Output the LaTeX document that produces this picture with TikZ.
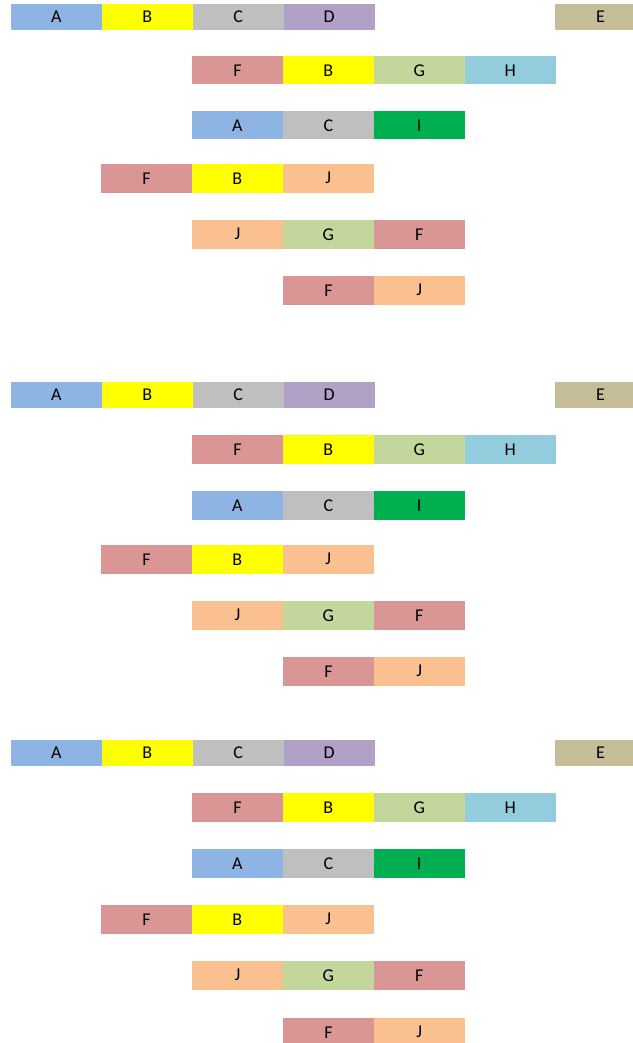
\documentclass[tikz,border=0pt]{standalone}
\usepackage{fontspec}
\setmainfont{Carlito}
\usetikzlibrary{positioning}

\definecolor{colA}{HTML}{8EB4E3}
\definecolor{colB}{HTML}{FFFF00}
\definecolor{colC}{HTML}{BFBFBF}
\definecolor{colD}{HTML}{B2A1C7}
\definecolor{colE}{HTML}{C4BD97}
\definecolor{colF}{HTML}{D99694}
\definecolor{colG}{HTML}{C3D69B}
\definecolor{colH}{HTML}{93CDDD}
\definecolor{colI}{HTML}{00B050}
\definecolor{colJ}{HTML}{FAC090}

\begin{document}
\begin{tikzpicture}[
  x=1pt, y=-1pt,
  node distance=0pt,
  cell/.style={fill=col#1, minimum width=90.9pt, minimum height=28.5pt,
               inner sep=0pt, outer sep=0pt, font=\fontsize{18}{21}\selectfont},
  head/.style={cell=#1, minimum height=26pt}
]
\useasboundingbox (0,0) rectangle (632,1043);

\foreach \blk/\ra/\rb/\rc/\rd/\re/\rf in
  {1/4/56/111/164/220/276, 2/382/435/491/545/601/657, 3/740/793/849/905/961/1018}{
  % first row
  \node[head=A, anchor=north west] (b\blk-1a) at (11,\ra) {A};
  \node[head=B, right=of b\blk-1a] (b\blk-1b) {B};
  \node[head=C, right=of b\blk-1b] (b\blk-1c) {C};
  \node[head=D, right=of b\blk-1c] (b\blk-1d) {D};
  \node[head=E, anchor=north west] (b\blk-1e) at (555,\ra) {E};
  % second row
  \node[cell=F, anchor=north west] (b\blk-2f) at (192,\rb) {F};
  \node[cell=B, right=of b\blk-2f] (b\blk-2b) {B};
  \node[cell=G, right=of b\blk-2b] (b\blk-2g) {G};
  \node[cell=H, right=of b\blk-2g] (b\blk-2h) {H};
  % third row
  \node[cell=A, anchor=north west] (b\blk-3a) at (192,\rc) {A};
  \node[cell=C, right=of b\blk-3a] (b\blk-3c) {C};
  \node[cell=I, right=of b\blk-3c] (b\blk-3i) {I};
  % fourth row
  \node[cell=F, anchor=north west] (b\blk-4f) at (101,\rd) {F};
  \node[cell=B, right=of b\blk-4f] (b\blk-4b) {B};
  \node[cell=J, right=of b\blk-4b] (b\blk-4j) {J};
  % fifth row
  \node[cell=J, anchor=north west] (b\blk-5j) at (192,\re) {J};
  \node[cell=G, right=of b\blk-5j] (b\blk-5g) {G};
  \node[cell=F, right=of b\blk-5g] (b\blk-5f) {F};
  % sixth row
  \node[cell=F, anchor=north west] (b\blk-6f) at (283,\rf) {F};
  \node[cell=J, right=of b\blk-6f] (b\blk-6j) {J};
}
\end{tikzpicture}
\end{document}
